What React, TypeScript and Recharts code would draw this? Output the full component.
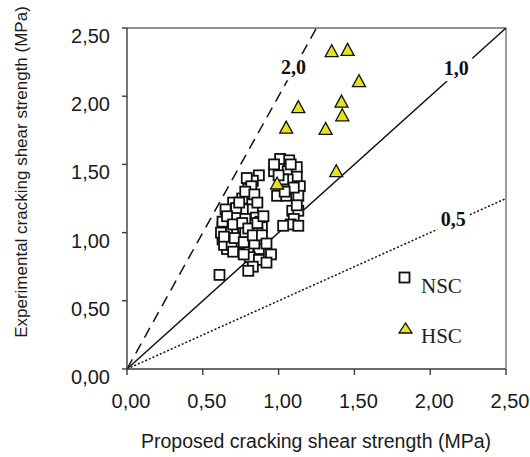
import React from "react";
import {
  ScatterChart,
  Scatter,
  XAxis,
  YAxis,
  ReferenceLine,
  ReferenceDot,
  Legend,
} from "recharts";

// ---- data ----
const nscX = [
  1.01, 1.07, 0.97, 1.06, 1.12, 0.87, 0.83, 1.12, 1.14, 1.06, 0.99, 1.05, 1.13, 0.8, 0.81, 0.8,
  0.7, 0.65, 0.77, 0.83, 1.09, 1.13, 1.1, 1.08, 1.13, 0.85, 0.88, 0.63, 0.68, 0.75, 0.83, 0.89,
  0.63, 0.68, 0.75, 0.81, 0.87, 0.66, 0.73, 0.8, 0.87, 0.81, 0.87, 0.95, 0.83, 0.61, 0.7, 0.63,
  0.79, 0.82, 0.76, 0.72, 0.66, 0.78, 0.86, 0.74, 0.64, 0.84, 0.78, 0.72, 1.03, 1.1, 1.03, 0.97,
  0.69, 0.62, 0.92, 0.66, 0.74, 0.78, 0.84, 0.86, 0.7, 0.76, 0.8, 0.86, 0.9, 0.64, 0.71, 0.77,
  0.83, 0.89, 0.7, 0.77, 0.92, 0.8, 1.0, 1.08, 1.04, 1.12,
];
const nscY = [
  1.54, 1.53, 1.45, 1.45, 1.48, 1.42, 1.38, 1.41, 1.34, 1.39, 1.27, 1.27, 1.27, 1.32, 1.26, 1.21,
  1.22, 1.17, 1.17, 1.17, 1.16, 1.16, 1.1, 1.06, 1.05, 1.11, 1.08, 1.04, 1.06, 1.04, 1.06, 1.04,
  0.95, 0.95, 0.95, 0.95, 0.95, 0.88, 0.88, 0.88, 0.88, 0.82, 0.8, 0.84, 0.75, 0.69, 1.01, 1.08,
  1.4, 1.34, 1.25, 1.13, 1.0, 1.0, 1.0, 0.92, 0.91, 0.92, 1.1, 1.18, 1.39, 1.33, 1.05, 1.5,
  0.91, 1.0, 0.78, 1.12, 1.22, 1.3, 1.28, 1.22, 1.06, 1.07, 1.03, 1.07, 1.12, 0.97, 0.96, 0.93,
  0.98, 0.98, 0.86, 0.84, 0.92, 0.72, 1.42, 1.5, 1.3, 1.2,
];
const hscX = [1.35, 1.455, 1.53, 1.13, 1.415, 1.42, 1.05, 1.31, 1.38, 0.99];
const hscY = [2.33, 2.34, 2.11, 1.92, 1.96, 1.86, 1.77, 1.76, 1.45, 1.36];

const axisTicks = [0, 0.5, 1, 1.5, 2, 2.5];
const axisTickLabels = ["0,00", "0,50", "1,00", "1,50", "2,00", "2,50"];

const ratioLines = [
  { ratio: 2.0, label: "2,0", end: { x: 1.25, y: 2.5 }, labelAt: { x: 1.098, y: 2.212 } },
  { ratio: 1.0, label: "1,0", end: { x: 2.5, y: 2.5 }, labelAt: { x: 2.172, y: 2.205 } },
  { ratio: 0.5, label: "0,5", end: { x: 2.5, y: 1.25 }, labelAt: { x: 2.152, y: 1.1 } },
];

const seriesNames = ["NSC", "HSC"];

const nscData = nscX.map((x, i) => ({ x, y: nscY[i] }));
const hscData = hscX.map((x, i) => ({ x, y: hscY[i] }));

// ---- styles ----
const SANS = "'Liberation Sans', Arial, sans-serif";
const SERIF = "'Liberation Serif', 'Times New Roman', serif";
const AXIS_COLOR = "#3a3a3a";
const TRI_FILL = "#e6e31c";

const fmt = (v: number) => {
  const i = axisTicks.indexOf(v);
  return i >= 0 ? axisTickLabels[i] : String(v);
};

const SquareShape = (props: any) => {
  const { cx, cy } = props;
  if (cx == null || cy == null) return null;
  const s = 10;
  return (
    <rect x={cx - s / 2} y={cy - s / 2} width={s} height={s} fill="#fff" stroke="#111" strokeWidth={1.8} />
  );
};

const TriangleShape = (props: any) => {
  const { cx, cy } = props;
  if (cx == null || cy == null) return null;
  const w = 13;
  const h = 11;
  const pts = `${cx},${cy - h / 2 - 1} ${cx - w / 2},${cy + h / 2} ${cx + w / 2},${cy + h / 2}`;
  return <polygon points={pts} fill={TRI_FILL} stroke="#111" strokeWidth={1.3} strokeLinejoin="miter" />;
};

const YTick = (props: any) => {
  const { x, y, payload } = props;
  return (
    <text x={x} y={y + 15} textAnchor="end" fontSize={20} fontFamily={SANS} fill="#1a1a1a">
      {fmt(payload.value)}
    </text>
  );
};

const XTick = (props: any) => {
  const { x, y, payload } = props;
  return (
    <text x={x + 4} y={y + 33} textAnchor="middle" fontSize={20} fontFamily={SANS} fill="#1a1a1a">
      {fmt(payload.value)}
    </text>
  );
};

const makeRatioLabel = (text: string) => (props: any) => {
  const { cx, cy } = props;
  if (cx == null || cy == null) return null;
  return (
    <g>
      <rect x={cx - 16} y={cy - 13} width={32} height={26} fill="#fff" />
      <text
        x={cx}
        y={cy + 7}
        textAnchor="middle"
        fontSize={20}
        fontWeight="bold"
        fontFamily={SERIF}
        fill="#111"
      >
        {text}
      </text>
    </g>
  );
};

const LegendContent = () => (
  <svg width={100} height={95} style={{ overflow: "visible", display: "block" }}>
    <rect x={5.5} y={10.5} width={10} height={10} fill="#fff" stroke="#111" strokeWidth={1.8} />
    <text x={27} y={31} fontSize={21} fontFamily={SERIF} fill="#222">
      {seriesNames[0]}
    </text>
    <polygon points="11.5,61 5,71 18,71" fill={TRI_FILL} stroke="#111" strokeWidth={1.3} />
    <text x={27} y={81} fontSize={21} fontFamily={SERIF} fill="#222">
      {seriesNames[1]}
    </text>
  </svg>
);

const YTitle = () => (
  <text
    x={21}
    y={172}
    transform="rotate(-90, 21, 172)"
    textAnchor="middle"
    dominantBaseline="central"
    fontSize={17}
    fontFamily={SANS}
    fill="#1a1a1a"
  >
    Experimental cracking shear strength (MPa)
  </text>
);

const XTitle = () => (
  <text x={316} y={448} textAnchor="middle" fontSize={19.5} fontFamily={SANS} fill="#1a1a1a">
    Proposed cracking shear strength (MPa)
  </text>
);

export default function App() {
  return (
    <div style={{ position: "absolute", left: 0, top: 0, width: 530, height: 457, background: "#fff" }}>
      <ScatterChart width={530} height={457} margin={{ top: 28, right: 24, bottom: 0, left: 1 }}>
        <XAxis
          type="number"
          dataKey="x"
          domain={[0, 2.5]}
          ticks={axisTicks}
          allowDataOverflow
          height={88}
          tickSize={6}
          tickMargin={0}
          stroke={AXIS_COLOR}
          strokeWidth={1.4}
          tick={<XTick />}
          label={{ content: () => <XTitle /> }}
        />
        <YAxis
          type="number"
          dataKey="y"
          domain={[0, 2.5]}
          ticks={axisTicks}
          allowDataOverflow
          width={126}
          tickSize={5}
          tickMargin={12}
          stroke={AXIS_COLOR}
          strokeWidth={1.4}
          tick={<YTick />}
          label={{ content: () => <YTitle /> }}
        />
        <ReferenceLine y={2.5} stroke="#6a6a6a" strokeWidth={1.3} />
        <ReferenceLine x={2.5} stroke="#6a6a6a" strokeWidth={1.3} />
        <ReferenceLine
          segment={[{ x: 0, y: 0 }, ratioLines[0].end]}
          stroke="#111"
          strokeWidth={1.5}
          strokeDasharray="11 7"
        />
        <ReferenceLine segment={[{ x: 0, y: 0 }, ratioLines[1].end]} stroke="#111" strokeWidth={1.5} />
        <ReferenceLine
          segment={[{ x: 0, y: 0 }, ratioLines[2].end]}
          stroke="#111"
          strokeWidth={1.5}
          strokeDasharray="2 2"
        />
        <Scatter
          name={seriesNames[0]}
          data={nscData}
          shape={<SquareShape />}
          isAnimationActive={false}
        />
        <Scatter
          name={seriesNames[1]}
          data={hscData}
          shape={<TriangleShape />}
          isAnimationActive={false}
        />
        {ratioLines.map((r) => (
          <ReferenceDot
            key={r.label}
            x={r.labelAt.x}
            y={r.labelAt.y}
            r={0}
            shape={makeRatioLabel(r.label)}
          />
        ))}
        <Legend
          layout="vertical"
          align="center"
          verticalAlign="middle"
          content={<LegendContent />}
          wrapperStyle={{ position: "absolute", left: 394, top: 262, width: 100, height: 95 }}
        />
      </ScatterChart>
    </div>
  );
}
